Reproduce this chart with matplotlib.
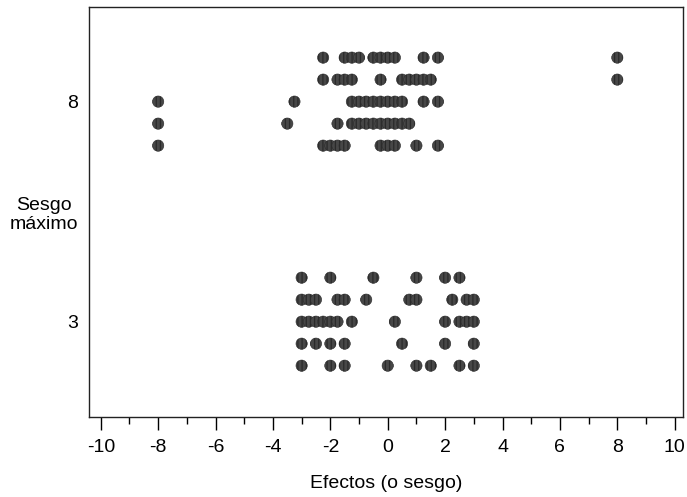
import matplotlib
matplotlib.use("Agg")
import matplotlib.pyplot as plt
import numpy as np

plt.rcParams['font.family'] = ['Liberation Sans', 'DejaVu Sans']
plt.rcParams['hatch.color'] = '#111111'
plt.rcParams['hatch.linewidth'] = 0.9

# Categories (maximum bias levels)
levels = [8, 3]
ytick_labels = ["8", "3"]

# Effects for max bias = 8, listed by stacked row (top to bottom)
bias8_rows = [
    [-2.25, -1.5, -1.25, -1.0, -0.5, -0.25, 0.0, 0.25, 1.25, 1.75, 8.0],
    [-2.25, -1.75, -1.5, -1.25, -0.25, 0.5, 0.75, 1.0, 1.25, 1.5, 8.0],
    [-8.0, -3.25, -1.25, -1.0, -0.75, -0.5, -0.25, 0.0, 0.25, 0.5, 1.25, 1.75],
    [-8.0, -3.5, -1.75, -1.25, -1.0, -0.75, -0.5, -0.25, 0.0, 0.25, 0.5, 0.75],
    [-8.0, -2.25, -2.0, -1.75, -1.5, -0.25, 0.0, 0.25, 1.0, 1.75],
]

# Effects for max bias = 3, listed by stacked row (top to bottom)
bias3_rows = [
    [-3.0, -2.0, -0.5, 1.0, 2.0, 2.5],
    [-3.0, -2.75, -2.5, -1.75, -1.5, -0.75, 0.75, 1.0, 2.25, 2.75, 3.0],
    [-3.0, -2.75, -2.5, -2.25, -2.0, -1.75, -1.25, 0.25, 2.0, 2.5, 2.75, 3.0],
    [-3.0, -2.5, -2.0, -1.5, 0.5, 2.0, 3.0],
    [-3.0, -2.0, -1.5, 0.0, 1.0, 1.5, 2.5, 3.0],
]

xticks = [-10, -8, -6, -4, -2, 0, 2, 4, 6, 8, 10]

fig = plt.figure(figsize=(6.87, 4.97), dpi=100)
ax = fig.add_axes([89/687, 1-417/497, (683-89)/687, (417-7)/497])

row_step = 0.5
for level, rows in zip(levels, [bias8_rows, bias3_rows]):
    n = len(rows)
    for i, row in enumerate(rows):
        y = level + ((n - 1) / 2 - i) * row_step
        ax.scatter(row, [y] * len(row), s=66, facecolor='#474747',
                   edgecolor='#2a2a2a', linewidths=0.4, hatch='||||', zorder=3)

ax.set_xlim(-10.41, 10.29)
ax.set_ylim(0.834, 10.15)
ax.set_xticks(xticks)
ax.set_xticklabels([str(t) for t in xticks])
ax.set_xticks(np.arange(-9, 10, 2), minor=True)
ax.set_yticks(levels)
ax.set_yticklabels(ytick_labels)

ax.tick_params(axis='x', which='major', direction='out', length=9.5, width=1,
               labelsize=14, pad=6)
ax.tick_params(axis='x', which='minor', direction='out', length=5, width=1)
ax.tick_params(axis='y', which='both', length=0, labelsize=14, pad=8)

for sp in ax.spines.values():
    sp.set_linewidth(1.0)
    sp.set_color('#222222')

ax.set_xlabel("Efectos (o sesgo)", fontsize=14, labelpad=14)
fig.text(44/687, 1-215/497, "Sesgo\nmáximo", ha='center', va='center',
         fontsize=14, linespacing=1.1)

fig.savefig("out.png", dpi=100)
